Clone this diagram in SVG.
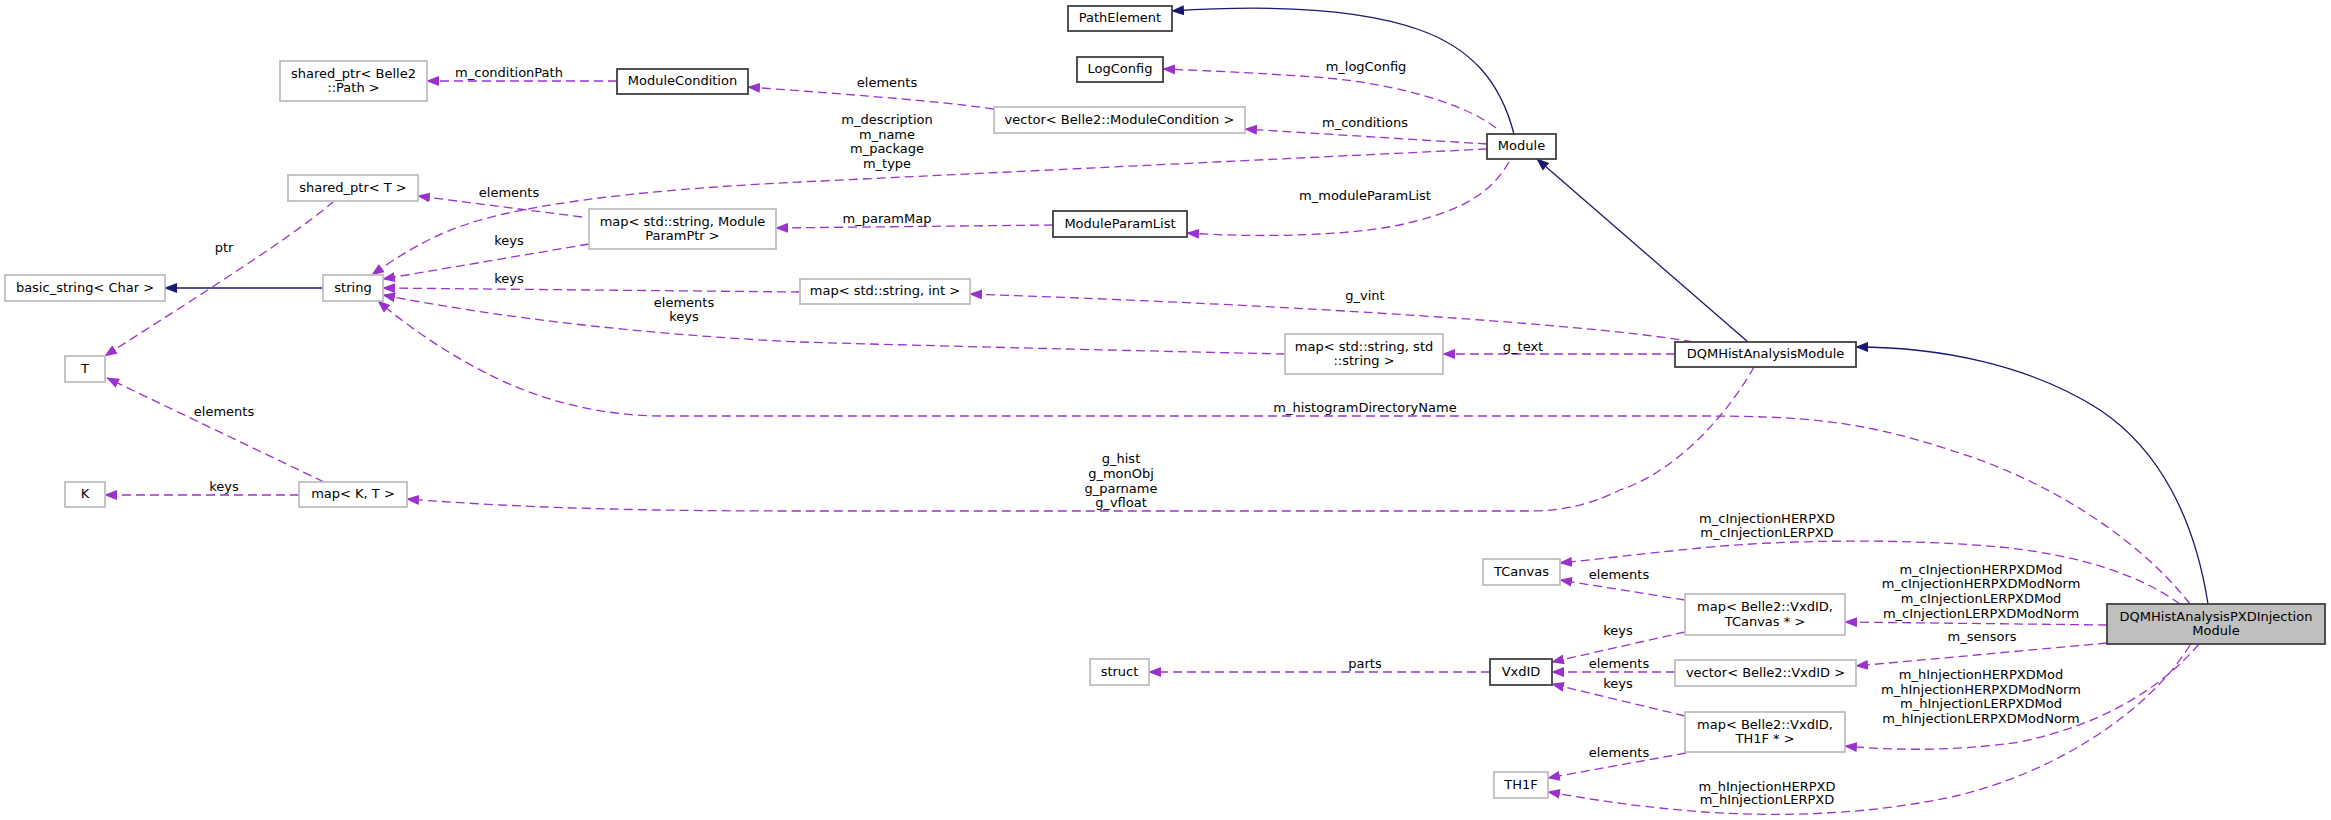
<svg xmlns="http://www.w3.org/2000/svg" width="2331" height="820" viewBox="0 0 2331 820">
<style>
text{font-family:"DejaVu Sans","Noto Sans",sans-serif;font-size:13px;fill:#000;text-anchor:middle}
.nb rect{fill:#fff;stroke:#404040;stroke-width:1.8}
.ng rect{fill:#fff;stroke:#bfbfbf;stroke-width:1.8}
.nf rect{fill:#bfbfbf;stroke:#404040;stroke-width:1.8}
.ep{fill:none;stroke:#9a32cd;stroke-width:1.3;stroke-dasharray:9,5;marker-end:url(#ap)}
.en{fill:none;stroke:#191970;stroke-width:1.3;marker-end:url(#an)}
</style>
<defs>
<marker id="ap" viewBox="0 0 13 10" refX="12" refY="5" markerWidth="13" markerHeight="10" markerUnits="userSpaceOnUse" orient="auto"><path d="M0,0L13,5L0,10z" fill="#9a32cd"/></marker>
<marker id="an" viewBox="0 0 13 10" refX="12" refY="5" markerWidth="13" markerHeight="10" markerUnits="userSpaceOnUse" orient="auto"><path d="M0,0L13,5L0,10z" fill="#191970"/></marker>
</defs>
<rect width="2331" height="820" fill="#fff"/>
<g id="connectors">
<path class="en" d="M1514,134 C1500,80 1470,48 1420,30 C1350,5 1250,6 1172,11"/>
<path class="ep" d="M1496,128 C1460,100 1380,80 1300,76 C1240,72 1190,70 1163,69"/>
<text x="1366" y="71">m_logConfig</text>
<path class="ep" d="M1487,144 L1245,129"/>
<text x="1365" y="127">m_conditions</text>
<path class="ep" d="M1487,149 L800,182 C680,188 560,198 480,220 C430,235 400,255 372,275"/>
<text x="887" y="124">m_description</text>
<text x="887" y="138.5">m_name</text>
<text x="887" y="153">m_package</text>
<text x="887" y="167.5">m_type</text>
<path class="ep" d="M994,109 C930,100 830,93 748,87"/>
<text x="887" y="87">elements</text>
<path class="ep" d="M617,81 L427,81"/>
<text x="509" y="77">m_conditionPath</text>
<path class="ep" d="M1509,162 C1490,195 1460,210 1412,222 C1360,236 1260,238 1187,233"/>
<text x="1365" y="200">m_moduleParamList</text>
<path class="ep" d="M1053,225 L776,228"/>
<text x="887" y="223">m_paramMap</text>
<path class="ep" d="M582,217 L418,196"/>
<text x="509" y="197">elements</text>
<path class="ep" d="M589,244 L383,279"/>
<text x="509" y="245">keys</text>
<path class="ep" d="M800,292 L383,288"/>
<text x="509" y="283">keys</text>
<path class="ep" d="M1285,354 C1100,350 900,345 800,342 C650,335 500,318 383,295"/>
<text x="684" y="307">elements</text>
<text x="684" y="321">keys</text>
<path class="en" d="M323,288 L165,288"/>
<path class="ep" d="M334,201 C290,240 160,320 105,356"/>
<text x="224" y="252">ptr</text>
<path class="ep" d="M324,482 L107,378"/>
<text x="224" y="416">elements</text>
<path class="ep" d="M299,495 L105,495"/>
<text x="224" y="491">keys</text>
<path class="en" d="M1748,342 L1537,159"/>
<path class="ep" d="M1693,342 C1600,325 1300,305 970,294"/>
<text x="1365" y="300">g_vint</text>
<path class="ep" d="M1675,354 L1443,354"/>
<text x="1523" y="351">g_text</text>
<path class="ep" d="M1754,367 C1730,410 1680,470 1620,490 C1590,505 1560,511 1530,511 L800,511 C600,511 500,506 407,499"/>
<text x="1121" y="463">g_hist</text>
<text x="1121" y="478">g_monObj</text>
<text x="1121" y="493">g_parname</text>
<text x="1121" y="507">g_vfloat</text>
<path class="en" d="M2208,604 C2195,520 2160,450 2100,410 C2030,365 1940,347 1856,347"/>
<path class="ep" d="M2190,604 C2140,540 2050,480 1950,450 C1860,420 1800,416 1700,416 L663,416 C600,416 540,400 490,375 C440,350 400,320 378,301"/>
<text x="1365" y="412">m_histogramDirectoryName</text>
<path class="ep" d="M2180,604 C2140,575 2080,555 2000,547 C1900,538 1780,540 1700,548 C1640,554 1590,560 1560,563"/>
<text x="1767" y="523">m_cInjectionHERPXD</text>
<text x="1767" y="537">m_cInjectionLERPXD</text>
<path class="ep" d="M1685,600 L1560,580"/>
<text x="1619" y="579">elements</text>
<path class="ep" d="M2107,625 L1845,622"/>
<text x="1981" y="574">m_cInjectionHERPXDMod</text>
<text x="1981" y="588">m_cInjectionHERPXDModNorm</text>
<text x="1981" y="603">m_cInjectionLERPXDMod</text>
<text x="1981" y="618">m_cInjectionLERPXDModNorm</text>
<path class="ep" d="M2107,643 L1856,666"/>
<text x="1982" y="641">m_sensors</text>
<path class="ep" d="M2199,644 C2160,690 2100,725 2020,742 C1950,752 1890,750 1845,746"/>
<text x="1981" y="679">m_hInjectionHERPXDMod</text>
<text x="1981" y="694">m_hInjectionHERPXDModNorm</text>
<text x="1981" y="708">m_hInjectionLERPXDMod</text>
<text x="1981" y="723">m_hInjectionLERPXDModNorm</text>
<path class="ep" d="M2190,645 C2150,710 2060,770 1960,795 C1860,818 1750,818 1660,808 C1610,803 1580,797 1548,792"/>
<text x="1767" y="791">m_hInjectionHERPXD</text>
<text x="1767" y="804">m_hInjectionLERPXD</text>
<path class="ep" d="M1686,753 L1548,778"/>
<text x="1619" y="757">elements</text>
<path class="ep" d="M1685,632 L1552,662"/>
<text x="1618" y="635">keys</text>
<path class="ep" d="M1675,672 L1552,672"/>
<text x="1619" y="668">elements</text>
<path class="ep" d="M1685,716 L1552,684"/>
<text x="1618" y="688">keys</text>
<path class="ep" d="M1490,672 L1149,672"/>
<text x="1365" y="668">parts</text>
</g>
<g id="n_PathElement" class="nb"><rect x="1068" y="6" width="104" height="25"/><text x="1120" y="22">PathElement</text></g>
<g id="n_LogConfig" class="nb"><rect x="1077" y="57" width="86" height="25"/><text x="1120" y="73">LogConfig</text></g>
<g id="n_ModuleCondition" class="nb"><rect x="617" y="69" width="131" height="25"/><text x="682.5" y="85">ModuleCondition</text></g>
<g id="n_shared_ptr_Path" class="ng"><rect x="280" y="61" width="147" height="40"/><text x="353.5" y="77.5">shared_ptr&lt; Belle2</text><text x="353.5" y="92">::Path &gt;</text></g>
<g id="n_vector_ModuleCondition" class="ng"><rect x="994" y="107" width="251" height="26"/><text x="1119.5" y="124">vector&lt; Belle2::ModuleCondition &gt;</text></g>
<g id="n_Module" class="nb"><rect x="1487" y="134" width="69" height="25"/><text x="1521.5" y="150">Module</text></g>
<g id="n_shared_ptr_T" class="ng"><rect x="288" y="175" width="130" height="26"/><text x="353" y="192">shared_ptr&lt; T &gt;</text></g>
<g id="n_map_ModuleParamPtr" class="ng"><rect x="589" y="209" width="187" height="40"/><text x="682.5" y="225.5">map&lt; std::string, Module</text><text x="682.5" y="240">ParamPtr &gt;</text></g>
<g id="n_ModuleParamList" class="nb"><rect x="1053" y="211" width="134" height="26"/><text x="1120" y="228">ModuleParamList</text></g>
<g id="n_basic_string" class="ng"><rect x="5" y="275" width="160" height="26"/><text x="85" y="292">basic_string&lt; Char &gt;</text></g>
<g id="n_string" class="ng"><rect x="323" y="275" width="60" height="26"/><text x="353" y="292">string</text></g>
<g id="n_map_string_int" class="ng"><rect x="800" y="279" width="170" height="25"/><text x="885" y="295">map&lt; std::string, int &gt;</text></g>
<g id="n_map_string_string" class="ng"><rect x="1285" y="334" width="158" height="40"/><text x="1364" y="350.5">map&lt; std::string, std</text><text x="1364" y="365">::string &gt;</text></g>
<g id="n_DQMHistAnalysisModule" class="nb"><rect x="1675" y="342" width="181" height="25"/><text x="1765.5" y="358">DQMHistAnalysisModule</text></g>
<g id="n_T" class="ng"><rect x="65" y="356" width="40" height="26"/><text x="85" y="373">T</text></g>
<g id="n_K" class="ng"><rect x="65" y="482" width="40" height="25"/><text x="85" y="498">K</text></g>
<g id="n_map_K_T" class="ng"><rect x="299" y="482" width="108" height="25"/><text x="353" y="498">map&lt; K, T &gt;</text></g>
<g id="n_TCanvas" class="ng"><rect x="1483" y="559" width="77" height="26"/><text x="1521.5" y="576">TCanvas</text></g>
<g id="n_map_VxdID_TCanvas" class="ng"><rect x="1685" y="594" width="160" height="41"/><text x="1765" y="611">map&lt; Belle2::VxdID,</text><text x="1765" y="625.5">TCanvas * &gt;</text></g>
<g id="n_DQMHistAnalysisPXDInjectionModule" class="nf"><rect x="2107" y="604" width="218" height="40"/><text x="2216" y="620.5">DQMHistAnalysisPXDInjection</text><text x="2216" y="635">Module</text></g>
<g id="n_struct" class="ng"><rect x="1090" y="659" width="59" height="26"/><text x="1119.5" y="676">struct</text></g>
<g id="n_VxdID" class="nb"><rect x="1490" y="659" width="62" height="26"/><text x="1521" y="676">VxdID</text></g>
<g id="n_vector_VxdID" class="ng"><rect x="1675" y="660" width="181" height="26"/><text x="1765.5" y="677">vector&lt; Belle2::VxdID &gt;</text></g>
<g id="n_map_VxdID_TH1F" class="ng"><rect x="1685" y="712" width="160" height="40"/><text x="1765" y="728.5">map&lt; Belle2::VxdID,</text><text x="1765" y="743">TH1F * &gt;</text></g>
<g id="n_TH1F" class="ng"><rect x="1494" y="772" width="54" height="26"/><text x="1521" y="789">TH1F</text></g>
</svg>
